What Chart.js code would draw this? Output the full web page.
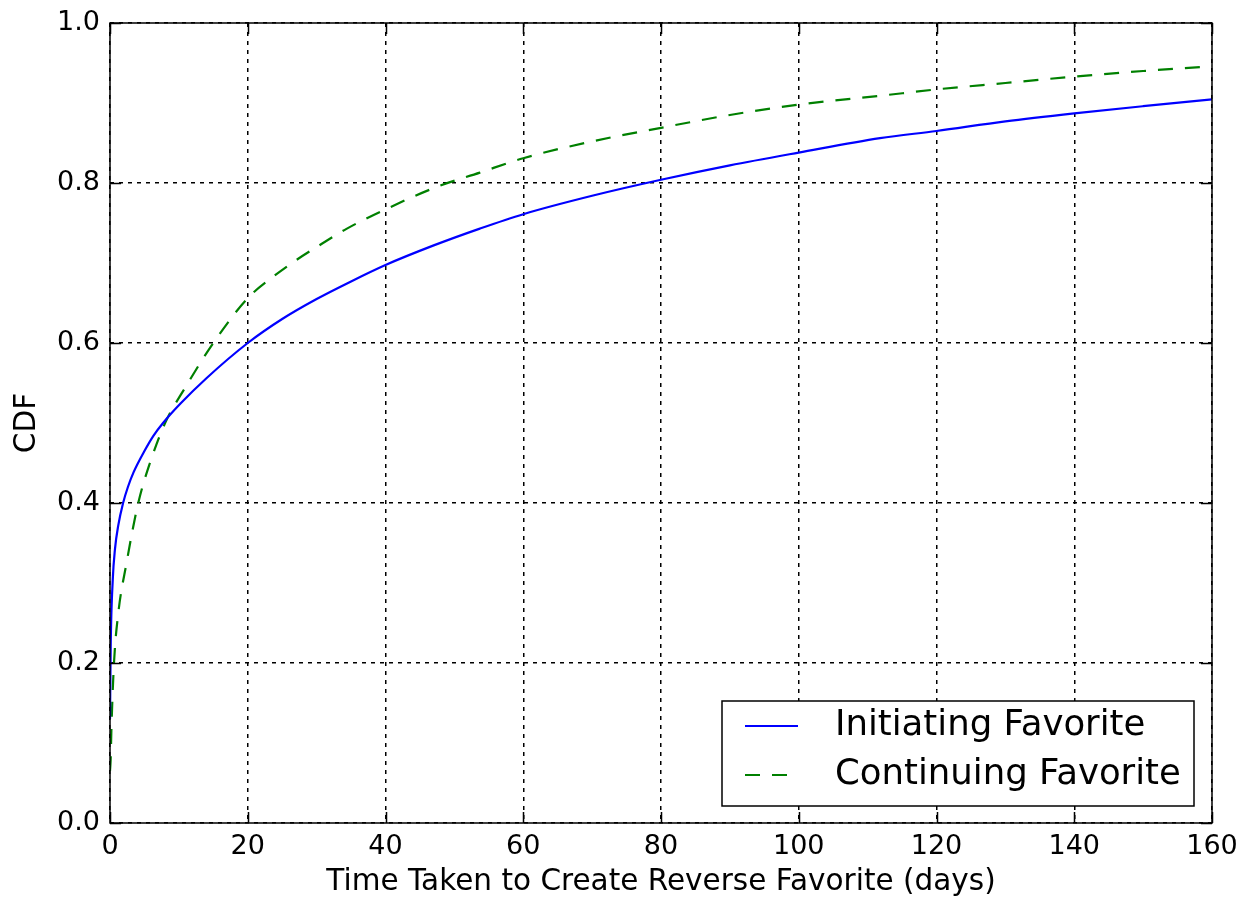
<!DOCTYPE html>
<html>
<head>
<meta charset="utf-8">
<script src="https://cdn.jsdelivr.net/npm/chart.js@4.4.1/dist/chart.umd.min.js"></script>
<style>
  body { margin: 0; background: #fff; }
  #wrap { width: 1243px; height: 897px; }
</style>
</head>
<body>
<div id="wrap"><canvas id="cdfChart" width="1243" height="897"></canvas></div>
<script>
// values
const xTicks = [0, 20, 40, 60, 80, 100, 120, 140, 160];
const yTicks = [0.0, 0.2, 0.4, 0.6, 0.8, 1.0];

const initiatingDays = [0, 0.1, 0.4, 0.73, 1.2, 1.9, 2.6, 3.4, 5, 6.3, 7.7, 10.2, 14, 20, 25, 30, 35, 40, 47, 53.7, 60, 70, 80, 90, 100, 111.8, 120, 130, 140, 150, 160];
const initiatingCdf = [0.13, 0.22, 0.304, 0.343, 0.372, 0.40, 0.42, 0.438, 0.465, 0.484, 0.50, 0.524, 0.556, 0.60, 0.63, 0.655, 0.677, 0.6975, 0.722, 0.743, 0.761, 0.784, 0.804, 0.822, 0.838, 0.856, 0.865, 0.877, 0.887, 0.896, 0.9045];

const continuingDays = [0, 0.1, 0.2, 0.58, 1.2, 2.4, 4.1, 5.8, 8, 10.9, 15, 20, 23.7, 27.1, 30, 34.4, 40, 47.4, 53.7, 60, 70, 80, 90, 100, 111.8, 120, 130, 140, 150, 160];
const continuingCdf = [0.065, 0.08, 0.116, 0.2, 0.262, 0.325, 0.40, 0.45, 0.50, 0.544, 0.60, 0.656, 0.683, 0.704, 0.72, 0.743, 0.767, 0.795, 0.813, 0.831, 0.852, 0.869, 0.885, 0.898, 0.909, 0.917, 0.925, 0.933, 0.94, 0.946];

const seriesNames = ['Initiating Favorite', 'Continuing Favorite'];

const toPoints = (xs, ys) => xs.map((x, i) => ({ x: x, y: ys[i] }));

const FONT = '"DejaVu Sans", "Bitstream Vera Sans", sans-serif';

// matplotlib style frame with inward ticks on all four sides
const framePlugin = {
  id: 'frame',
  afterDatasetsDraw(chart) {
    const { ctx, chartArea: a, scales } = chart;
    const tl = 11;
    ctx.save();
    ctx.strokeStyle = '#000';
    ctx.lineWidth = 1.5;
    ctx.beginPath();
    scales.x.ticks.forEach(t => {
      const px = Math.round(scales.x.getPixelForValue(t.value)) + 0.5;
      ctx.moveTo(px, a.bottom); ctx.lineTo(px, a.bottom - tl);
      ctx.moveTo(px, a.top); ctx.lineTo(px, a.top + tl);
    });
    scales.y.ticks.forEach(t => {
      const py = Math.round(scales.y.getPixelForValue(t.value)) + 0.5;
      ctx.moveTo(a.left, py); ctx.lineTo(a.left + tl, py);
      ctx.moveTo(a.right, py); ctx.lineTo(a.right - tl, py);
    });
    ctx.stroke();
    ctx.strokeRect(a.left, a.top, a.right - a.left, a.bottom - a.top);
    ctx.restore();
  }
};

// legend box drawn inside the plot, lower right
const insideLegend = {
  id: 'insideLegend',
  afterDraw(chart) {
    const { ctx, chartArea: a } = chart;
    const w = 472, h = 105;
    const x0 = a.right - 18 - w, y0 = a.bottom - 17 - h;
    ctx.save();
    ctx.fillStyle = '#fff';
    ctx.fillRect(x0, y0, w, h);
    ctx.strokeStyle = '#000';
    ctx.lineWidth = 1.5;
    ctx.strokeRect(x0, y0, w, h);
    ctx.font = '35.5px ' + FONT;
    ctx.textBaseline = 'middle';
    chart.data.datasets.forEach((ds, i) => {
      const yy = y0 + 25 + i * 49;
      ctx.strokeStyle = ds.borderColor;
      ctx.lineWidth = ds.borderWidth;
      ctx.setLineDash(ds.borderDash || []);
      ctx.beginPath();
      ctx.moveTo(x0 + 23, yy);
      ctx.lineTo(x0 + 76, yy);
      ctx.stroke();
      ctx.setLineDash([]);
      ctx.fillStyle = '#000';
      ctx.fillText(ds.label, x0 + 113, yy);
    });
    ctx.restore();
  }
};

new Chart(document.getElementById('cdfChart').getContext('2d'), {
  type: 'line',
  data: {
    datasets: [
      {
        label: seriesNames[0],
        data: toPoints(initiatingDays, initiatingCdf),
        borderColor: '#0000ff',
        borderWidth: 2.2,
        pointRadius: 0,
        cubicInterpolationMode: 'monotone',
        fill: false
      },
      {
        label: seriesNames[1],
        data: toPoints(continuingDays, continuingCdf),
        borderColor: '#008000',
        borderWidth: 2.2,
        borderDash: [15, 12],
        pointRadius: 0,
        cubicInterpolationMode: 'monotone',
        fill: false
      }
    ]
  },
  options: {
    responsive: false,
    animation: false,
    events: [],
    layout: { padding: { top: 23, right: 31, left: 0, bottom: 0 } },
    plugins: {
      legend: { display: false },
      tooltip: { enabled: false }
    },
    scales: {
      x: {
        type: 'linear',
        min: 0,
        max: 160,
        afterBuildTicks: s => { s.ticks = xTicks.map(v => ({ value: v })); },
        afterFit: s => { s.height = 74; s.paddingLeft = 0; s.paddingRight = 0; },
        ticks: {
          color: '#000',
          font: { family: FONT, size: 27 },
          padding: 8,
          maxRotation: 0,
          callback: v => String(v)
        },
        grid: { color: '#000', lineWidth: 1.5, drawTicks: false },
        border: { display: false, dash: [4, 5] },
        title: {
          display: true,
          text: 'Time Taken to Create Reverse Favorite (days)',
          color: '#000',
          font: { family: FONT, size: 29.5, lineHeight: 1.0 },
          padding: { top: 0, bottom: 0 }
        }
      },
      y: {
        type: 'linear',
        min: 0,
        max: 1,
        afterBuildTicks: s => { s.ticks = yTicks.map(v => ({ value: v })); },
        afterFit: s => { s.width = 110; s.paddingTop = 0; s.paddingBottom = 0; },
        ticks: {
          color: '#000',
          font: { family: FONT, size: 27 },
          padding: 10,
          callback: v => v.toFixed(1)
        },
        grid: { color: '#000', lineWidth: 1.5, drawTicks: false },
        border: { display: false, dash: [4, 5] },
        title: {
          display: true,
          text: 'CDF',
          color: '#000',
          font: { family: FONT, size: 29.5, lineHeight: 1.0 },
          padding: { top: 13, bottom: 0 }
        }
      }
    }
  },
  plugins: [framePlugin, insideLegend]
});
</script>
</body>
</html>
